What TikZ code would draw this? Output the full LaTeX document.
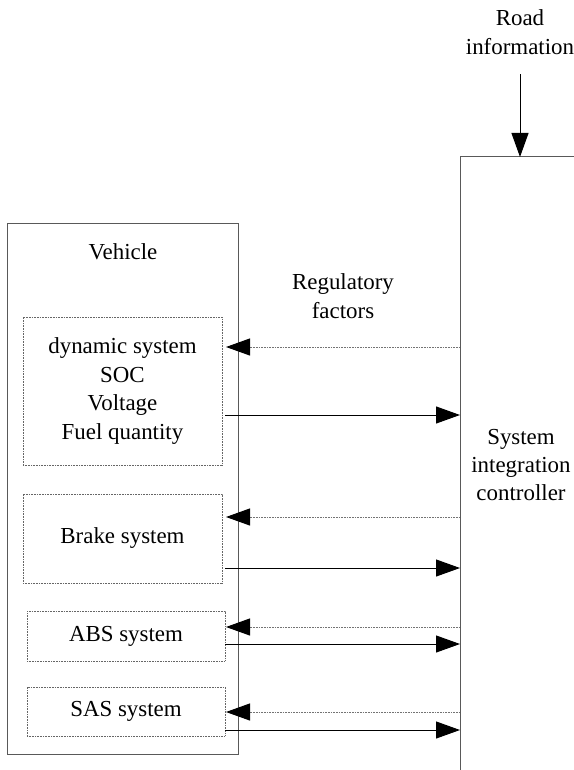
\documentclass[tikz,border=0pt]{standalone}
\usepackage{fontspec}
\setmainfont{Liberation Serif}
\usetikzlibrary{arrows.meta}
\begin{document}
\begin{tikzpicture}[x=1bp,y=-1bp,
  box/.style={draw=black!65,line width=1bp,inner sep=0pt,outer sep=0pt},
  subbox/.style={draw=black!60,line width=0.9bp,dash pattern=on 1bp off 0.6bp,inner sep=0pt,outer sep=0pt,align=center},
  lbl/.style={inner sep=0pt,align=center,font=\fontsize{23}{28.5}\selectfont},
  sig/.style={draw=black,line width=1bp,-{Triangle[length=24bp,width=17bp]}},
  reg/.style={draw=black!55,line width=1bp,dash pattern=on 1bp off 0.6bp,-{Triangle[length=24bp,width=17bp,fill=black,color=black]}}
]
\clip (0,0) rectangle (574,770);
\useasboundingbox (0,0) rectangle (574,770);
% containers
\node[box,minimum width=230bp,minimum height=530bp] (veh) at (123,489) {};
\node[lbl] (vehtext) at (123,252) {Vehicle};
\node[box,minimum width=160bp,minimum height=660bp] (ctrl) at (540,487) {};
\node[lbl] (ctrltext) at (521,465) {System\\integration\\controller};
% sub-systems
\node[subbox,lbl,draw=black!60,line width=0.9bp,dash pattern=on 1bp off 0.6bp,minimum width=199bp,minimum height=148bp] (dyn) at (122.5,391) {dynamic system\\SOC\\Voltage\\Fuel quantity};
\node[subbox,lbl,draw=black!60,line width=0.9bp,dash pattern=on 1bp off 0.6bp,minimum width=199bp,minimum height=89bp] (brake) at (122.5,538.5) {Brake system};
\node[subbox,lbl,draw=black!60,line width=0.9bp,dash pattern=on 1bp off 0.6bp,minimum width=198bp,minimum height=50bp] (abs) at (126,636) {ABS system};
\node[subbox,lbl,draw=black!60,line width=0.9bp,dash pattern=on 1bp off 0.6bp,minimum width=198bp,minimum height=49bp] (sas) at (126,711.5) {SAS system};
% labels
\node[lbl] (regtext) at (343,296) {Regulatory\\factors};
\node[lbl] (roadtext) at (520,32) {Road\\information};
\coordinate (roadstart) at (520,74);
% road arrow
\draw[sig] (roadstart) -- (roadstart |- ctrl.north);
% signal arrows
\draw[reg] (ctrl.west |- 0,347) -- ([xshift=4bp]dyn.east |- 0,347);
\draw[sig] ([xshift=3bp]dyn.east |- 0,415) -- (ctrl.west |- 0,415);
\draw[reg] (ctrl.west |- 0,517) -- ([xshift=4bp]brake.east |- 0,517);
\draw[sig] ([xshift=3bp]brake.east |- 0,568) -- (ctrl.west |- 0,568);
\draw[reg] (ctrl.west |- 0,627) -- ([xshift=1bp]abs.east |- 0,627);
\draw[sig] (abs.east |- 0,644) -- (ctrl.west |- 0,644);
\draw[reg] (ctrl.west |- 0,712) -- ([xshift=1bp]sas.east |- 0,712);
\draw[sig] (sas.east |- 0,730) -- (ctrl.west |- 0,730);
\end{tikzpicture}
\end{document}
